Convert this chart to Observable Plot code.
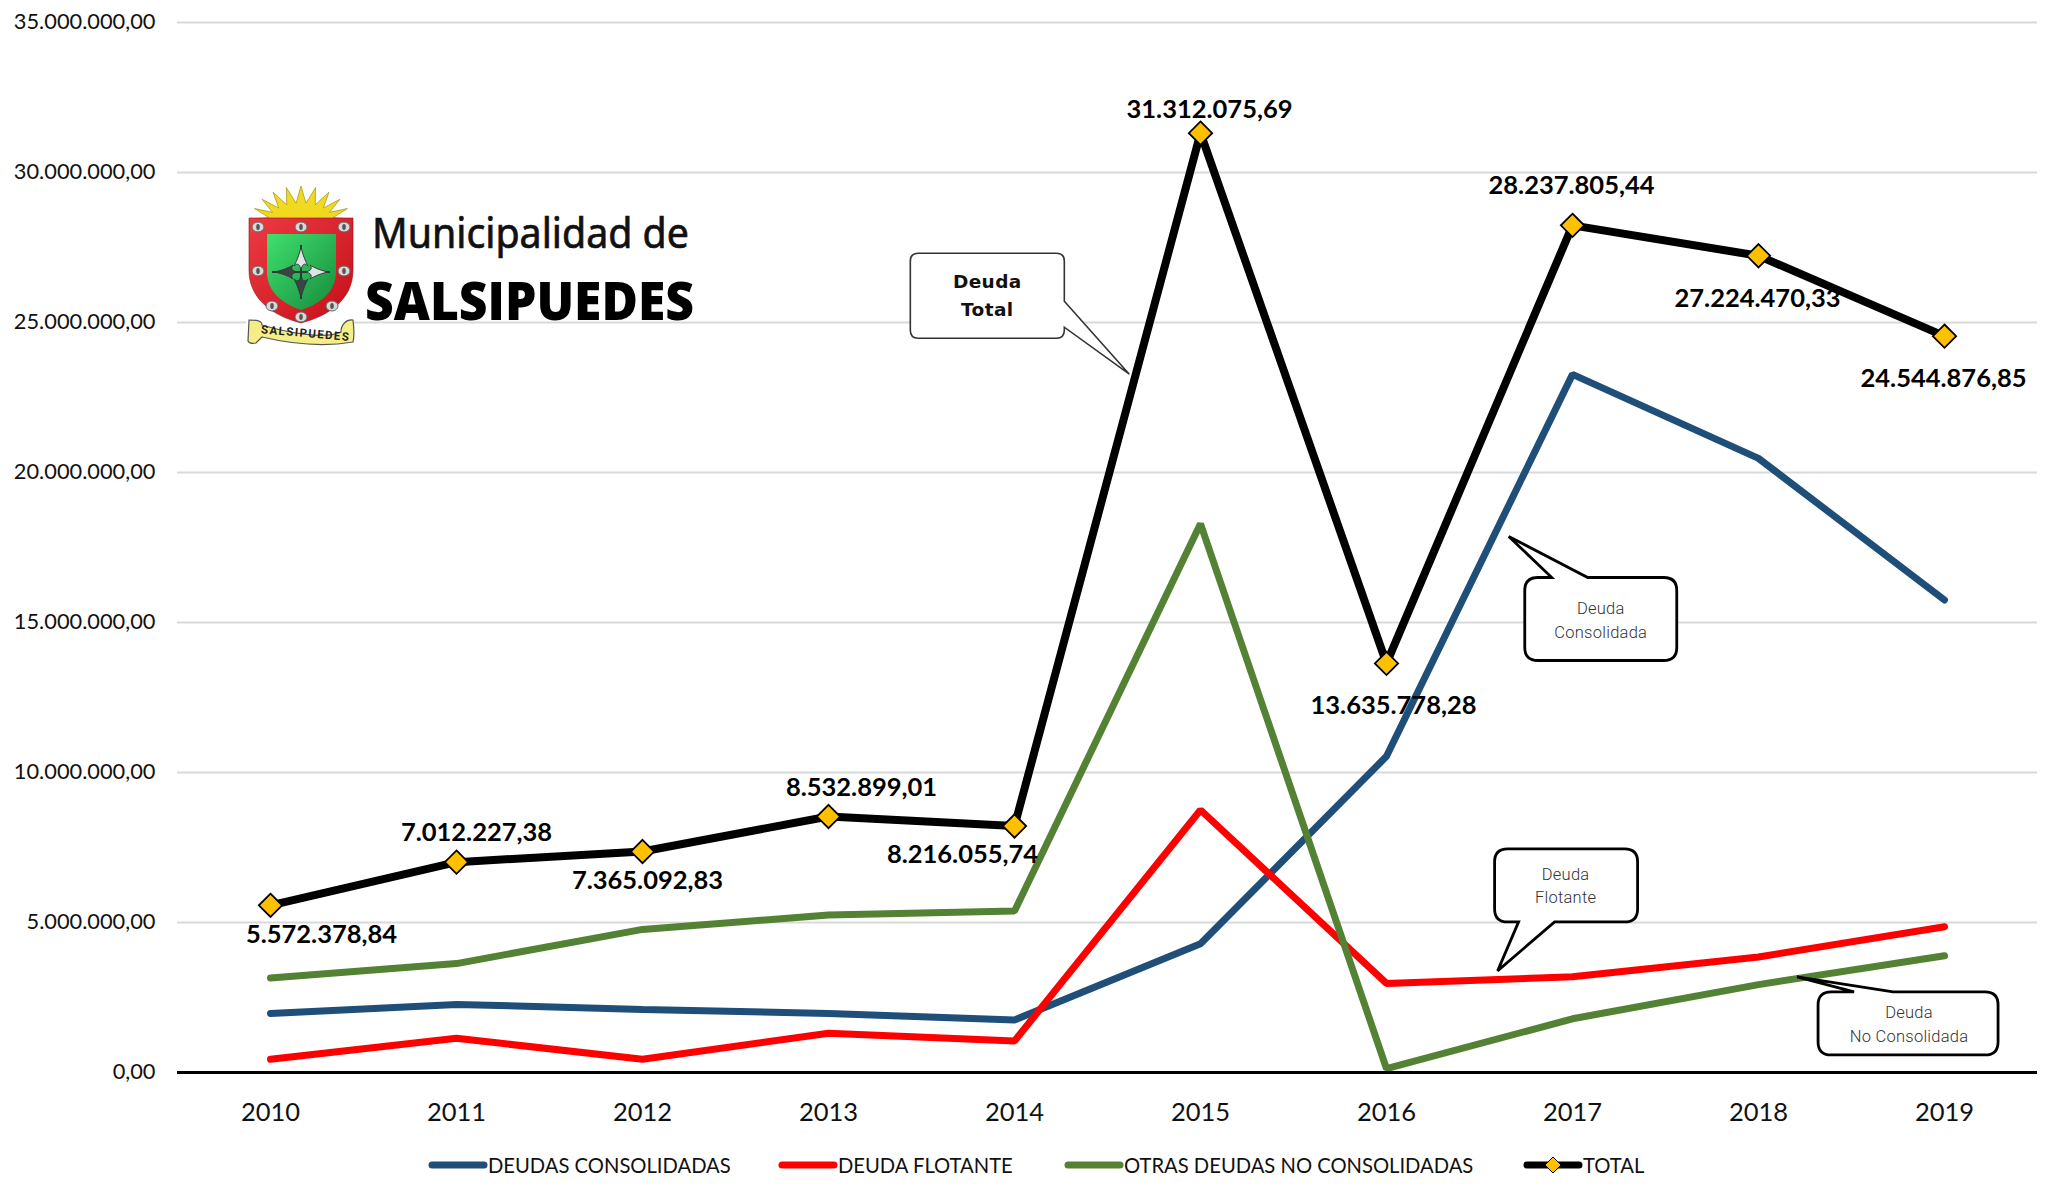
<!DOCTYPE html>
<html lang="es">
<head>
<meta charset="utf-8">
<script src="https://cdn.jsdelivr.net/npm/d3@7"></script>
<script src="https://cdn.jsdelivr.net/npm/@observablehq/plot@0.6"></script>
<style>
html,body{margin:0;padding:0;background:#fff;}
#legend{position:relative;height:40px;font-family:Lato,sans-serif;font-size:20.2px;color:#111;}
#legend .item{position:absolute;top:10px;display:flex;align-items:center;height:30px;white-space:nowrap;}
</style>
</head>
<body>
<div id="chart"></div>
<div id="legend"></div>
<script>
const years = [2010,2011,2012,2013,2014,2015,2016,2017,2018,2019];
const consolidadas = [1970000,2270000,2100000,1970000,1750000,4290000,10540000,23270000,20470000,15750000];
const flotante = [440000,1140000,440000,1310000,1050000,8750000,2970000,3190000,3850000,4860000];
const otras = [3150000,3630000,4770000,5250000,5380000,18290000,130000,1790000,2930000,3890000];
const total = [5572378.84,7012227.38,7365092.83,8532899.01,8216055.74,31312075.69,13635778.28,28237805.44,27224470.33,24544876.85];
const yTicks = [0,5000000,10000000,15000000,20000000,25000000,30000000,35000000];
const seriesNames = ["DEUDAS CONSOLIDADAS","DEUDA FLOTANTE","OTRAS DEUDAS NO CONSOLIDADAS","TOTAL"];
const seriesColors = ["#1F4E79","#FF0000","#548235","#000000"];

// value-label offsets (px) from each TOTAL point
const labelDx = [51,20,5,33,-52,9,7,-1,-1,-1];
const labelDy = [29,-29,29,-29,29,-23,42,-40,43,43];

// callouts: tip in data units, box relative to the tip in px
const callouts = [
  {lines:["Deuda","Total"],tip:[2014.62,23260000],box:[-219,-65,-121,-36],side:"right",stem:[-73,-47],cx:-142,base:[-86,-58],bold:true},
  {lines:["Deuda","Consolidada"],tip:[2016.66,17850000],box:[16,168,41,124],side:"top",stem:[43,79],cx:92,base:[77,101]},
  {lines:["Deuda","Flotante"],tip:[2016.60,3370000],box:[-3,140,-122,-49],side:"bottom",stem:[21,57],cx:68,base:[-91,-68]},
  {lines:["Deuda","No Consolidada"],tip:[2018.21,3170000],box:[21,201,15,78],side:"top",stem:[57,96],cx:112,base:[41,65]}
];

const fmt = v => v.toLocaleString("de-DE",{minimumFractionDigits:2,maximumFractionDigits:2});
const rows = values => years.map((year,i)=>({year,value:values[i]}));
const totalRows = rows(total);
const NS = "http://www.w3.org/2000/svg";
const el = (name,attrs,parent,text) => {
  const e = document.createElementNS(NS,name);
  for (const k in attrs) e.setAttribute(k,attrs[k]);
  if (text!==undefined) e.textContent = text;
  if (parent) parent.appendChild(e);
  return e;
};

function calloutMark(index,{x,y}){
  const g = el("g",{});
  for (const c of callouts){
    const tx = x(c.tip[0]), ty = y(c.tip[1]);
    const [l,r,t,b] = c.box, R = c.bold ? 8 : 13;
    const s = c.stem; let d = `M${l+R},${t}`;
    if (c.side==="top") d += `H${s[0]}L0,0L${s[1]},${t}`;
    d += `H${r-R}Q${r},${t} ${r},${t+R}`;
    if (c.side==="right") d += `V${s[0]}L0,0L${r},${s[1]}`;
    d += `V${b-R}Q${r},${b} ${r-R},${b}`;
    if (c.side==="bottom") d += `H${s[1]}L0,0L${s[0]},${b}`;
    d += `H${l+R}Q${l},${b} ${l},${b-R}V${t+R}Q${l},${t} ${l+R},${t}Z`;
    const cg = el("g",{transform:`translate(${tx},${ty})`},g);
    el("path",{d,fill:"#fff",stroke:c.bold?"#333":"#000","stroke-width":c.bold?1.6:2.8,"stroke-linejoin":"miter"},cg);
    c.lines.forEach((line,i)=>el("text",{
      x:c.cx,y:c.base[i],"text-anchor":"middle",
      "font-family":c.bold?"DejaVu Sans":"Roboto",
      "font-size":c.bold?18.5:16.5,"font-weight":c.bold?700:300,
      "letter-spacing":c.bold?0.4:0.25,fill:c.bold?"#111":"#333"
    },cg,line));
  }
  return g;
}

function logoMark(){
  const g = el("g",{});
  const defs = el("defs",{},g);
  const grad = (id,c1,c2) => {
    const lg = el("linearGradient",{id,x1:0,y1:0,x2:1,y2:1},defs);
    el("stop",{offset:0,"stop-color":c1},lg);
    el("stop",{offset:1,"stop-color":c2},lg);
  };
  grad("logoRed","#EE3A42","#C40F18");
  grad("logoGreen","#3FE06E","#178A3C");
  el("rect",{x:246,y:183,width:108,height:166,fill:"#fff"},g);
  // sun rays
  const pts = [];
  const rays = 11;
  for (let i=0;i<=2*rays;i++){
    const a = Math.PI*(1.02 - 1.04*i/(2*rays));
    const outer = i%2===1;
    pts.push([301+(outer?50:33)*Math.cos(a), 222-(outer?36:19)*Math.sin(a)]);
  }
  el("polygon",{points:pts.map(p=>p.join(",")).join(" "),fill:"#F1D91F",stroke:"#A89A2A","stroke-width":0.8},g);
  // shield
  el("path",{d:"M249,218H353V270C353,300 328,316 301,323C274,316 249,300 249,270Z",fill:"url(#logoRed)",stroke:"#8f1116","stroke-width":0.6},g);
  el("path",{d:"M267,234H336V272C336,292 320,304 301,310C283,304 267,292 267,272Z",fill:"url(#logoGreen)"},g);
  // cross
  el("path",{d:"M301,245V299M272,272H330",stroke:"#30393a","stroke-width":2,fill:"none"},g);
  el("path",{d:"M301,247C299,256 296,262 294,266C298,262 300,265 301,270C302,265 304,262 308,266C306,262 303,256 301,247Z",fill:"#dfe5e5",stroke:"#30393a","stroke-width":1},g);
  el("path",{d:"M301,298C299,289 296,283 294,279C298,283 300,280 301,275C302,280 304,283 308,279C306,283 303,289 301,298Z",fill:"#3b4443",stroke:"#30393a","stroke-width":1},g);
  el("path",{d:"M275,272C284,270 290,267 293,265C290,269 293,271 297,272C293,273 290,275 293,279C290,277 284,274 275,272Z",fill:"#3b4443",stroke:"#30393a","stroke-width":1},g);
  el("path",{d:"M328,272C319,270 313,267 310,265C313,269 310,271 306,272C310,273 313,275 310,279C313,277 319,274 328,272Z",fill:"#dfe5e5",stroke:"#30393a","stroke-width":1},g);
  // studs
  [[258,227],[301,227],[344,227],[258,271],[344,271],[272,306],[332,306],[301,317]].forEach(([cx,cy])=>{
    el("ellipse",{cx,cy,rx:6,ry:5,fill:"#d8d8d8",stroke:"#666","stroke-width":1},g);
    el("ellipse",{cx,cy,rx:1.8,ry:3,fill:"#555"},g);
  });
  // banner
  el("path",{d:"M249,320C262,320 262,323 262,325C285,332 325,340 341,332C341,325 346,319 353,320C354,328 354,338 353,342C330,346 300,346 262,337L256,343C252,344 249,343 248,341Z",fill:"#F5EE86",stroke:"#555","stroke-width":1.2},g);
  el("text",{x:305,y:337,"text-anchor":"middle","font-family":"Roboto","font-size":11.5,"font-weight":700,textLength:88,lengthAdjust:"spacing",fill:"#222",transform:"rotate(5 305 333)"},g,"SALSIPUEDES");
  el("text",{x:372,y:248,"text-anchor":"start","font-family":"Noto Sans","font-size":41,textLength:317,lengthAdjust:"spacingAndGlyphs",fill:"#111",stroke:"#111","stroke-width":0.7},g,"Municipalidad de");
  el("text",{x:365,y:320,"text-anchor":"start","font-family":"Open Sans","font-size":53,"font-weight":800,textLength:329,lengthAdjust:"spacingAndGlyphs",fill:"#000"},g,"SALSIPUEDES");
  return g;
}

const lineOpts = {x:"year",y:"value",strokeWidth:7,strokeLinecap:"round",strokeLinejoin:"miter"};
const plot = Plot.plot({
  width:2055,height:1140,
  marginLeft:177,marginRight:18,marginTop:22,marginBottom:68,
  style:{fontFamily:"Lato, sans-serif",background:"#fff",color:"#111",overflow:"visible"},
  x:{type:"linear",domain:[2009.5,2019.5]},
  y:{type:"linear",domain:[0,35000000]},
  marks:[
    Plot.ruleY(yTicks.filter(d=>d>0),{stroke:"#D9D9D9",strokeWidth:2}),
    logoMark,
    Plot.axisY({ticks:yTicks,tickFormat:fmt,tickSize:0,tickPadding:22,fontSize:21.8,label:null,anchor:"left"}),
    Plot.axisX({ticks:years,tickFormat:String,tickSize:0,tickPadding:30,fontSize:25.5,label:null,anchor:"bottom"}),
    Plot.line(rows(consolidadas),{...lineOpts,stroke:seriesColors[0]}),
    Plot.line(rows(flotante),{...lineOpts,stroke:seriesColors[1]}),
    Plot.line(rows(otras),{...lineOpts,stroke:seriesColors[2]}),
    Plot.line(totalRows,{...lineOpts,strokeWidth:8,stroke:seriesColors[3]}),
    Plot.dot(totalRows,{x:"year",y:"value",symbol:"diamond2",r:10.5,fill:"#FFC000",stroke:"#000",strokeWidth:1.8}),
    Plot.ruleY([0],{stroke:"#000",strokeWidth:3}),
    ...totalRows.map((d,i)=>Plot.text([d],{x:"year",y:"value",text:r=>fmt(r.value),dx:labelDx[i],dy:labelDy[i],fontSize:25.5,fontWeight:700,fill:"#000"})),
    calloutMark
  ]
});
document.getElementById("chart").appendChild(plot);

const legend = document.getElementById("legend");
const legendLeft = [428,778,1064,1523];
seriesNames.forEach((name,i)=>{
  const item = document.createElement("div");
  item.className = "item"; item.style.left = legendLeft[i]+"px";
  const sw = el("svg",{width:60,height:20,viewBox:"0 0 60 20"},item);
  el("line",{x1:4,x2:56,y1:10,y2:10,stroke:seriesColors[i],"stroke-width":7,"stroke-linecap":"round"},sw);
  if (name==="TOTAL") el("path",{d:"M30,2L38,10L30,18L22,10Z",fill:"#FFC000",stroke:"#000","stroke-width":1},sw);
  const t = document.createElement("span"); t.textContent = name;
  item.appendChild(t); legend.appendChild(item);
});
</script>
</body>
</html>
